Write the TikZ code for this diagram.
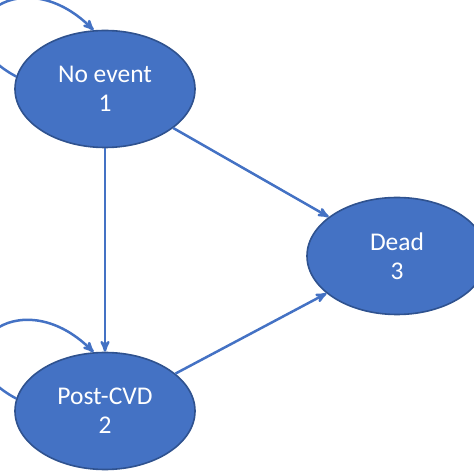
\documentclass[tikz,border=0pt]{standalone}
\usepackage{fontspec}
\setmainfont{Carlito}
\usepackage{tikz}
\usetikzlibrary{arrows,shapes.geometric,positioning,calc}
\definecolor{officeblue}{RGB}{68,114,196}
\definecolor{officeborder}{RGB}{47,82,143}
\begin{document}
\begin{tikzpicture}[x=1pt,y=1pt,>=stealth', auto, semithick,
    state/.style={ellipse,draw=officeborder,fill=officeblue,line width=1.6pt,
      minimum width=180pt,minimum height=117pt,inner sep=0pt,text=white,
      align=center,font=\fontsize{25.5}{29}\selectfont},
    trans/.style={draw=officeblue,line width=2.5pt,->}]
  \useasboundingbox (0,0) rectangle (474,474);
  \clip (0,0) rectangle (474,474);
  \node[state] at (105,385) (noevent) {No event\\1};
  \node[state] at (105,63) (postcvd) {Post-CVD\\2};
  \node[state] at (397,218) (dead) {Dead\\3};
  \draw[trans] (noevent) -- (postcvd);
  \draw[trans] (noevent) -- (dead);
  \draw[trans] (postcvd) -- (dead);
  \draw[trans] (noevent.172) .. controls +(-85,45) and +(-75,75) .. (noevent.101);
  \draw[trans] (postcvd.172) .. controls +(-85,45) and +(-75,75) .. (postcvd.101);
\end{tikzpicture}
\end{document}
